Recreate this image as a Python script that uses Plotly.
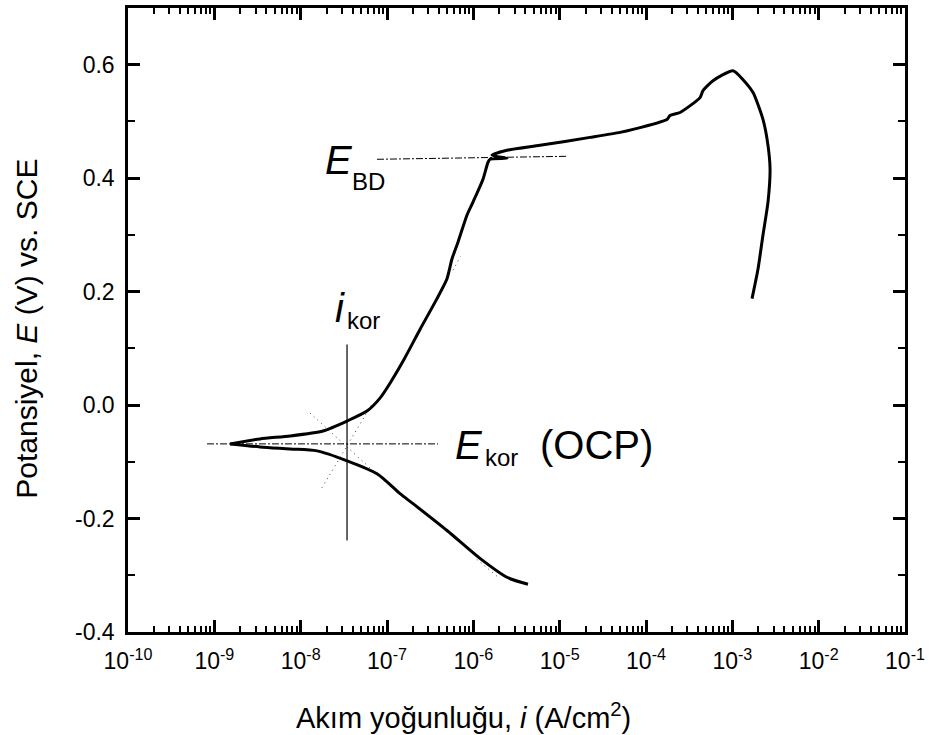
import numpy as np
import plotly.graph_objects as go

# ---- data (log10 of current density in A/cm^2, potential in V vs SCE) ----
anodic_log_i = [-8.818, -8.471, -8.123, -7.741, -7.463, -7.232, -7.081, -6.965, -6.815, -6.618,
                -6.421, -6.305, -6.247, -6.177, -6.073, -6.004, -5.888, -5.830, -5.807, -5.610,
                -5.784, -5.610, -5.228, -4.648, -4.301, -4.150, -3.757, -3.722, -3.606, -3.374,
                -3.340, -3.224, -2.992, -2.876, -2.760, -2.645, -2.587, -2.563, -2.587, -2.645,
                -2.702, -2.772]
anodic_E = [-0.0684, -0.0596, -0.0544, -0.0456, -0.0281, -0.0105, 0.0123, 0.0386, 0.0772, 0.1333,
            0.1877, 0.2228, 0.2579, 0.2877, 0.3351, 0.3579, 0.3982, 0.4281, 0.4333, 0.4351,
            0.4404, 0.4491, 0.4579, 0.4719, 0.4807, 0.4860, 0.5035, 0.5105, 0.5158, 0.5421,
            0.5544, 0.5719, 0.5895, 0.5737, 0.5509, 0.5035, 0.4579, 0.4158, 0.3579, 0.3000,
            0.2404, 0.1877]

cathodic_log_i = [-8.818, -8.471, -8.123, -7.811, -7.463, -7.116, -6.849, -6.699, -6.305, -5.923,
                  -5.610, -5.367]
cathodic_E = [-0.0684, -0.0737, -0.0772, -0.0807, -0.0982, -0.1211, -0.1561, -0.1737, -0.2211,
              -0.2702, -0.3035, -0.3158]

# reference constructions
E_kor_value = -0.0684
E_kor_span_log_i = [-9.085, -6.409]
E_BD_log_i = [-7.116, -4.903]
E_BD_E = [0.4333, 0.4386]
i_kor_log = -7.463
i_kor_E_span = [-0.2386, 0.107]
tafel_a_log_i = [-7.753, -7.174]
tafel_a_E = [-0.1456, 0.0018]
tafel_c_log_i = [-7.892, -7.023]
tafel_c_E = [-0.014, -0.135]
fit_c_log_i = [-5.96, -5.70]
fit_c_E = [-0.272, -0.305]
fit_a_log_i = [-6.235, -6.15]
fit_a_E = [0.238, 0.262]

x_tick_exps = list(range(-10, 0))
x_tick_text = ["10<sup>%d</sup>" % e for e in x_tick_exps]
y_tick_vals = [-0.4, -0.2, 0.0, 0.2, 0.4, 0.6]
y_tick_text = ["-0.4", "-0.2", "0.0", "0.2", "0.4", "0.6"]

FONT = "Liberation Sans, Arial, sans-serif"

def tenp(v):
    return np.power(10.0, np.asarray(v, dtype=float))

fig = go.Figure()

# dotted Tafel / fit lines
for xs, ys in [(tafel_a_log_i, tafel_a_E), (tafel_c_log_i, tafel_c_E),
               (fit_c_log_i, fit_c_E), (fit_a_log_i, fit_a_E)]:
    fig.add_trace(go.Scatter(x=tenp(xs), y=ys, mode="lines",
                             line=dict(color="#444444", width=1, dash="1px,4px"),
                             showlegend=False, hoverinfo="skip"))

# E_kor dash-dot
fig.add_trace(go.Scatter(x=tenp(E_kor_span_log_i), y=[E_kor_value, E_kor_value], mode="lines",
                         line=dict(color="black", width=1, dash="7px,2px,2px,2px"),
                         showlegend=False, hoverinfo="skip"))
# E_BD dash-dot
fig.add_trace(go.Scatter(x=tenp(E_BD_log_i), y=E_BD_E, mode="lines",
                         line=dict(color="black", width=1, dash="7px,2px,2px,2px"),
                         showlegend=False, hoverinfo="skip"))
# i_kor vertical
fig.add_trace(go.Scatter(x=tenp([i_kor_log, i_kor_log]), y=i_kor_E_span, mode="lines",
                         line=dict(color="black", width=1.2),
                         showlegend=False, hoverinfo="skip"))

# polarization curve
fig.add_trace(go.Scatter(x=tenp(cathodic_log_i), y=cathodic_E, mode="lines",
                         line=dict(color="black", width=3, shape="spline", smoothing=0.8),
                         showlegend=False))
fig.add_trace(go.Scatter(x=tenp(anodic_log_i), y=anodic_E, mode="lines",
                         line=dict(color="black", width=3, shape="spline", smoothing=0.6),
                         showlegend=False))

fig.update_xaxes(
    type="log", range=[-10, -1],
    tickmode="array", tickvals=[10.0 ** e for e in x_tick_exps], ticktext=x_tick_text,
    ticks="inside", ticklen=12, tickwidth=2.5, tickcolor="black",
    minor=dict(ticks="inside", ticklen=6, tickwidth=1.5, tickcolor="black",
               dtick="D1", showgrid=False),
    showline=True, linewidth=2.5, linecolor="black", mirror="allticks",
    showgrid=False, zeroline=False,
    tickfont=dict(family=FONT, size=23, color="black"),
    ticklabelstandoff=7,
)
fig.update_yaxes(
    range=[-0.4, 0.7],
    tickmode="array", tickvals=y_tick_vals, ticktext=y_tick_text,
    ticks="inside", ticklen=12, tickwidth=2.5, tickcolor="black",
    minor=dict(ticks="inside", ticklen=7, tickwidth=2, tickcolor="black",
               dtick=0.1, tick0=0.0, showgrid=False),
    showline=True, linewidth=2.5, linecolor="black", mirror="allticks",
    showgrid=False, zeroline=False,
    tickfont=dict(family=FONT, size=23, color="black"),
    ticklabelstandoff=6,
)

def ann(text, x, y, size, xanchor="left", yanchor="middle", angle=0):
    fig.add_annotation(text=text, x=x, y=y, xref="paper", yref="paper",
                       xanchor=xanchor, yanchor=yanchor, showarrow=False, textangle=angle,
                       font=dict(family=FONT, size=size, color="black"))

# labels
ann("<i>E</i>", 0.251, 0.756, 40)
ann("BD", 0.2857, 0.7215, 24)
ann("<i>i</i>", 0.2638, 0.520, 40)
ann("kor", 0.2793, 0.4998, 24)
ann("<i>E</i>", 0.4183, 0.2998, 40)
ann("kor", 0.4569, 0.2797, 24)
ann("(OCP)", 0.5277, 0.2998, 40)

# axis titles
ann("Akım yoğunluğu, <i>i</i> (A/cm<sup>2</sup>)", 0.4324, -0.134, 29, xanchor="center")
ann("Potansiyel, <i>E</i> (V) vs. SCE", -0.13, 0.486, 30, xanchor="center", angle=-90)

fig.update_layout(
    width=930, height=735,
    margin=dict(l=128, r=25, t=5, b=103),
    paper_bgcolor="white", plot_bgcolor="white",
    showlegend=False,
)

fig.write_html("out.html")
